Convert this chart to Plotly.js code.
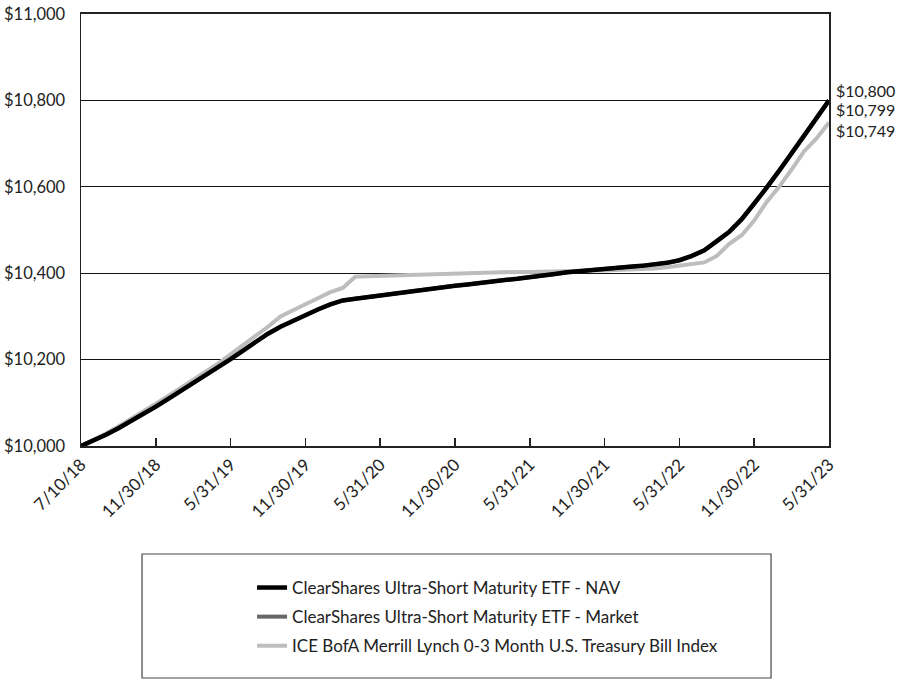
<!DOCTYPE html>
<html>
<head>
<meta charset="utf-8">
<script src="https://cdn.plot.ly/plotly-3.0.1.min.js"></script>
<style>html,body{margin:0;padding:0;background:#fff;}#chart{width:910px;height:679px;}</style>
</head>
<body>
<div id="chart"></div>
<script>
// Period index (roughly monthly) and the dates labelled on the axis
var tickIndex = [0, 6, 12, 18, 24, 30, 36, 42, 48, 54, 60];
var tickLabels = ["7/10/18", "11/30/18", "5/31/19", "11/30/19", "5/31/20", "11/30/20", "5/31/21", "11/30/21", "5/31/22", "11/30/22", "5/31/23"];

var navValues = [10000, 10012, 10026, 10041, 10057, 10074, 10091, 10109, 10127, 10145,
  10164, 10183, 10201, 10221, 10241, 10260, 10276, 10290, 10303, 10316,
  10328, 10337, 10341, 10345, 10348, 10351, 10355, 10359, 10363, 10367,
  10371, 10374, 10378, 10381, 10384, 10387, 10390, 10394, 10398, 10402,
  10405, 10408, 10411, 10414, 10415, 10417, 10420, 10424, 10430, 10440,
  10453, 10473, 10496, 10525, 10560, 10598, 10637, 10677, 10717, 10758, 10800];

var marketValues = [10000, 10012, 10026, 10041, 10057, 10074, 10091, 10109, 10127, 10145,
  10164, 10183, 10201, 10221, 10241, 10260, 10276, 10290, 10303, 10316,
  10328, 10337, 10341, 10345, 10348, 10351, 10355, 10359, 10363, 10367,
  10371, 10374, 10378, 10381, 10384, 10387, 10390, 10394, 10398, 10402,
  10405, 10408, 10411, 10414, 10415, 10417, 10420, 10424, 10430, 10440,
  10453, 10473, 10496, 10525, 10560, 10598, 10637, 10677, 10717, 10757, 10799];

var indexValues = [10000, 10014, 10029, 10045, 10062, 10080, 10098, 10116, 10134, 10153,
  10172, 10191, 10212, 10235, 10256, 10276, 10300, 10315, 10328, 10342,
  10356, 10366, 10392, 10393, 10394, 10395, 10396, 10397, 10398, 10399,
  10400, 10400, 10401, 10402, 10402, 10403, 10403, 10404, 10404, 10405,
  10405, 10406, 10406, 10407, 10408, 10409, 10411, 10414, 10418, 10421,
  10425, 10440, 10468, 10488, 10522, 10565, 10600, 10640, 10682, 10712, 10749];

var seriesNames = ["ClearShares Ultra-Short Maturity ETF - NAV",
  "ClearShares Ultra-Short Maturity ETF - Market",
  "ICE BofA Merrill Lynch 0-3 Month U.S. Treasury Bill Index"];

var xIdx = navValues.map(function (v, i) { return i; });
var last = xIdx.length - 1;
var FONT = "Lato, 'Open Sans', sans-serif";

var traces = [
  {x: xIdx, y: indexValues, name: seriesNames[2], legendgroup: "c", type: "scatter", mode: "lines",
   line: {color: "#bdbdbd", width: 4}, legendrank: 3, hoverinfo: "skip"},
  {x: xIdx, y: marketValues, name: seriesNames[1], legendgroup: "b", type: "scatter", mode: "lines",
   line: {color: "#666666", width: 4}, legendrank: 2, hoverinfo: "skip"},
  {x: xIdx, y: navValues, name: seriesNames[0], legendgroup: "a", type: "scatter", mode: "lines",
   line: {color: "#000000", width: 4.5}, legendrank: 1, hoverinfo: "skip"}
];

var endLabels = [
  {y: navValues[last], text: "$10,800", shift: 10},
  {y: marketValues[last], text: "$10,799", shift: -9},
  {y: indexValues[last], text: "$10,749", shift: -8}
];

var annotations = endLabels.map(function (e) {
  return {x: last, y: e.y, xref: "x", yref: "y", text: e.text, showarrow: false,
    xanchor: "left", yanchor: "middle", xshift: 6, yshift: e.shift, borderpad: 0,
    font: {family: FONT, size: 16, color: "#222"}};
});

var layout = {
  width: 910, height: 679,
  margin: {l: 81, r: 81, t: 14, b: 233},
  paper_bgcolor: "#fff", plot_bgcolor: "#fff",
  font: {family: FONT, size: 17, color: "#222"},
  showlegend: true,
  legend: {x: 0.2287, y: -0.287, xanchor: "left", yanchor: "top",
    traceorder: "grouped", tracegroupgap: 4, font: {family: FONT, size: 17, color: "#222"},
    bgcolor: "rgba(0,0,0,0)", borderwidth: 0},
  xaxis: {
    range: [0, last], tickmode: "array", tickvals: tickIndex, ticktext: tickLabels,
    tickangle: -45, ticks: "inside", ticklen: 8, tickcolor: "#222", tickwidth: 1.5,
    showgrid: false, zeroline: false, showline: true, linecolor: "#222", linewidth: 2,
    mirror: true, tickfont: {family: FONT, size: 17, color: "#222"}
  },
  yaxis: {
    range: [10000, 11000], dtick: 200, tick0: 10000, tickprefix: "$", tickformat: ",d",
    showgrid: true, gridcolor: "#111", gridwidth: 1, zeroline: false,
    showline: true, linecolor: "#222", linewidth: 1.5, mirror: true,
    ticks: "", ticklabelstandoff: 11,
    tickfont: {family: FONT, size: 16.5, color: "#222"}
  },
  shapes: [
    {type: "rect", xref: "paper", yref: "paper", x0: 0.0816, x1: 0.9225, y0: -0.25, y1: -0.537,
     line: {color: "#444", width: 1.2}, fillcolor: "rgba(0,0,0,0)"}
  ],
  annotations: annotations
};

Plotly.newPlot("chart", traces, layout, {displayModeBar: false, staticPlot: true});
</script>
</body>
</html>
